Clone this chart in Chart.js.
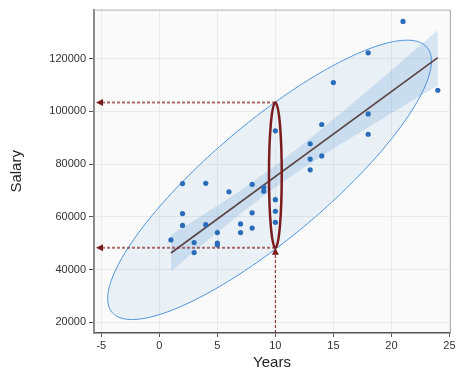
<!DOCTYPE html>
<html>
<head>
<meta charset="utf-8">
<script src="https://cdn.jsdelivr.net/npm/chart.js@4"></script>
<style>
  html, body { margin: 0; padding: 0; background: #fff; }
  canvas { display: block; }
</style>
</head>
<body>
<canvas id="chart" width="469" height="374"></canvas>
<script>
// data
const years = [1, 2, 2, 2, 3, 3, 4, 4, 5, 5, 5, 6, 7, 7, 8, 8, 8, 9, 9,
  10, 10, 10, 10, 13, 13, 13, 14, 14, 15, 18, 18, 18, 21, 24];
const salary = [51200, 72600, 61200, 56700, 50200, 46400, 72700, 57000, 54000, 50000, 49300,
  69500, 57300, 54000, 72300, 61500, 55700, 71200, 69700,
  92600, 66500, 62100, 57900, 87700, 81900, 77800, 95000, 83100, 110900,
  122200, 99000, 91300, 134100, 108000];

// fitted line and its confidence band
const fitX = [1, 24];
const fitY = [46250, 120350];
const bandX = [1, 4, 7, 9.4, 12, 15, 18, 21, 24];
const bandHigh = [53150, 61370, 69980, 77420, 86140, 96900, 108070, 119430, 130900];
const bandLow = [39350, 50470, 61180, 69220, 77240, 85820, 93990, 101950, 109820];

const xTicks = [-5, 0, 5, 10, 15, 20, 25];
const yTicks = [20000, 40000, 60000, 80000, 100000, 120000];

// data ellipse
const ellipseMean = [9.5, 74000];
const ellipseSpread = [13.95, 53000];
const ellipseCorr = 0.85;

// prediction interval at 10 years
const predYear = 10;
const predRange = [48200, 103400];
const predHalfWidth = 0.55;

const darkRed = "#7a1c1c";

const overlay = {
  id: "overlay",
  beforeDraw(chart) {
    const { ctx, chartArea: a } = chart;
    ctx.save();
    ctx.fillStyle = "#fafafa";
    ctx.fillRect(a.left, a.top, a.width, a.height);
    ctx.restore();
  },
  beforeDatasetsDraw(chart) {
    const { ctx, scales: { x, y }, chartArea: a } = chart;
    const s = Math.sqrt(1 - ellipseCorr * ellipseCorr);
    ctx.save();
    ctx.beginPath();
    ctx.rect(a.left, a.top, a.width, a.height);
    ctx.clip();
    ctx.beginPath();
    for (let i = 0; i <= 240; i++) {
      const t = i / 240 * 2 * Math.PI;
      const px = x.getPixelForValue(ellipseMean[0] + ellipseSpread[0] * Math.cos(t));
      const py = y.getPixelForValue(ellipseMean[1] + ellipseSpread[1] * (ellipseCorr * Math.cos(t) - s * Math.sin(t)));
      if (i) ctx.lineTo(px, py); else ctx.moveTo(px, py);
    }
    ctx.closePath();
    ctx.fillStyle = "rgba(70,140,210,0.09)";
    ctx.fill();
    ctx.strokeStyle = "#4f95dc";
    ctx.lineWidth = 1;
    ctx.stroke();
    ctx.restore();
  },
  afterDatasetsDraw(chart) {
    const { ctx, scales: { x, y }, chartArea: a } = chart;
    const cx = x.getPixelForValue(predYear);
    const tip = a.left + 2;
    ctx.save();

    // dashed guides to the y axis
    predRange.forEach(v => {
      const py = y.getPixelForValue(v);
      ctx.setLineDash([3, 2]);
      ctx.strokeStyle = "rgba(140,45,45,0.7)";
      ctx.lineWidth = 2;
      ctx.beginPath();
      ctx.moveTo(tip + 6, py);
      ctx.lineTo(cx, py);
      ctx.stroke();
      ctx.setLineDash([]);
      ctx.fillStyle = darkRed;
      ctx.beginPath();
      ctx.moveTo(tip, py);
      ctx.lineTo(tip + 7, py - 3.5);
      ctx.lineTo(tip + 7, py + 3.5);
      ctx.closePath();
      ctx.fill();
    });

    // vertical guide from the x axis
    const pLow = y.getPixelForValue(predRange[0]);
    ctx.setLineDash([3, 2]);
    ctx.strokeStyle = darkRed;
    ctx.lineWidth = 1;
    ctx.beginPath();
    ctx.moveTo(cx, a.bottom);
    ctx.lineTo(cx, pLow + 6);
    ctx.stroke();
    ctx.setLineDash([]);
    ctx.fillStyle = darkRed;
    ctx.beginPath();
    ctx.moveTo(cx, pLow);
    ctx.lineTo(cx - 3.5, pLow + 7);
    ctx.lineTo(cx + 3.5, pLow + 7);
    ctx.closePath();
    ctx.fill();

    // prediction ellipse
    const cy = y.getPixelForValue((predRange[0] + predRange[1]) / 2);
    const rx = x.getPixelForValue(predYear + predHalfWidth) - cx;
    const ry = Math.abs(y.getPixelForValue(predRange[1]) - cy);
    ctx.strokeStyle = darkRed;
    ctx.lineWidth = 2.5;
    ctx.beginPath();
    ctx.ellipse(cx, cy, rx, ry, 0, 0, 2 * Math.PI);
    ctx.stroke();
    ctx.restore();
  },
  afterDraw(chart) {
    const { ctx, chartArea: a } = chart;
    ctx.save();
    ctx.strokeStyle = "#b0b0b0";
    ctx.lineWidth = 1;
    ctx.beginPath();
    ctx.moveTo(a.left, a.top + 0.5);
    ctx.lineTo(a.right + 0.5, a.top + 0.5);
    ctx.lineTo(a.right + 0.5, a.bottom);
    ctx.stroke();
    ctx.restore();
  }
};

const font = { family: "'Liberation Sans', Arial, sans-serif" };

new Chart(document.getElementById("chart"), {
  data: {
    datasets: [
      {
        type: "scatter",
        data: years.map((v, i) => ({ x: v, y: salary[i] })),
        backgroundColor: "#2a6cb9",
        borderWidth: 0,
        pointRadius: 2.6,
        order: 0
      },
      {
        type: "line",
        data: fitX.map((v, i) => ({ x: v, y: fitY[i] })),
        borderColor: "#5a4444",
        borderWidth: 1.6,
        pointRadius: 0,
        fill: false,
        order: 1
      },
      {
        type: "line",
        data: bandX.map((v, i) => ({ x: v, y: bandHigh[i] })),
        borderWidth: 0,
        pointRadius: 0,
        tension: 0.3,
        backgroundColor: "rgba(70,140,210,0.19)",
        fill: "+1",
        order: 2
      },
      {
        type: "line",
        data: bandX.map((v, i) => ({ x: v, y: bandLow[i] })),
        borderWidth: 0,
        pointRadius: 0,
        tension: 0.3,
        fill: false,
        order: 3
      }
    ]
  },
  options: {
    responsive: false,
    animation: false,
    layout: { padding: { left: 0, right: 19, top: 7, bottom: 0 } },
    plugins: { legend: { display: false }, tooltip: { enabled: false } },
    scales: {
      x: {
        type: "linear",
        min: -5.63,
        max: 25.05,
        afterBuildTicks: s => { s.ticks = xTicks.map(v => ({ value: v })); },
        afterFit: s => { s.height = 41; },
        ticks: { color: "#333", font: { ...font, size: 11 }, padding: 2, maxRotation: 0 },
        grid: { color: "#ebebeb", tickColor: "#555", tickLength: 4 },
        border: { color: "#555", width: 1.5 },
        title: { display: true, text: "Years", color: "#222", font: { ...font, size: 15 }, padding: { top: 0, bottom: 2 } }
      },
      y: {
        type: "linear",
        min: 15900,
        max: 138600,
        afterBuildTicks: s => { s.ticks = yTicks.map(v => ({ value: v })); },
        afterFit: s => { s.width = 94; },
        ticks: { color: "#333", font: { ...font, size: 11 }, padding: 3, callback: v => String(v) },
        grid: { color: "#ebebeb", tickColor: "#555", tickLength: 5 },
        border: { color: "#8a8a8a", width: 2 },
        title: { display: true, text: "Salary", color: "#222", font: { ...font, size: 15 }, padding: { top: 8, bottom: 0 } }
      }
    }
  },
  plugins: [overlay]
});
</script>
</body>
</html>
